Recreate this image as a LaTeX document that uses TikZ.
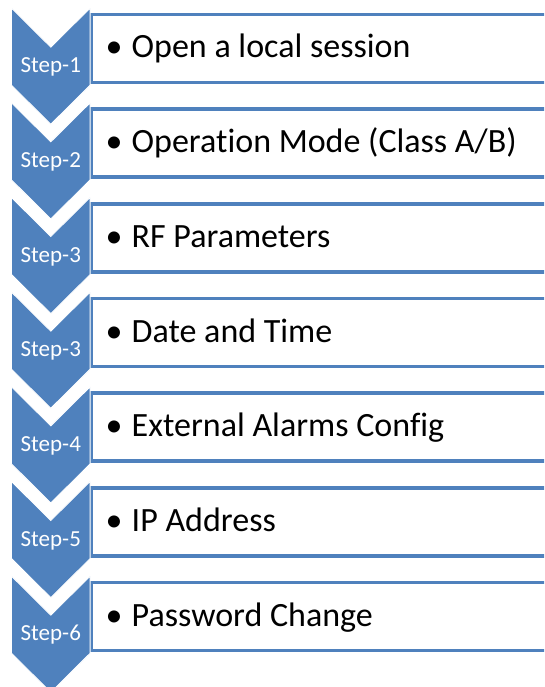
\documentclass[tikz,border=0pt]{standalone}
\usepackage{fontspec}
\setmainfont{Carlito}[Ligatures=NoCommon]
\definecolor{accent}{HTML}{4F81BD}
\tikzset{
  chev/.style={fill=accent, draw=white, line width=0.8pt},
  itembox/.style={fill=white, draw=accent, line width=3.6pt},
  steplabel/.style={text=white, font=\fontsize{23}{27}\selectfont, anchor=base, inner sep=0pt},
  itemtext/.style={text=black, font=\fontsize{34}{40}\selectfont, anchor=base west, inner sep=0pt},
  bulletmark/.style={text=black, font=\fontsize{34}{40}\selectfont, anchor=base, inner sep=0pt}
}
\begin{document}
\begin{tikzpicture}[x=1pt,y=-1pt]
\useasboundingbox (0,0) rectangle (544,687);
\clip (0,0) rectangle (544,687);
\foreach \i/\lab/\txt in {0/Step-1/{Open a local session},
                          1/Step-2/{Operation Mode (Class A\slash B)},
                          2/Step-3/{RF Parameters},
                          3/Step-3/{Date and Time},
                          4/Step-4/{External Alarms Config},
                          5/Step-5/{IP Address},
                          6/Step-6/{Password Change}}{
  \pgfmathsetmacro{\yo}{\i*94.67}
  \begin{scope}[yshift=-\yo pt]
    \draw[itembox] (91.5,14.5) rectangle (600,82.5);
    \draw[chev] (11.5,8.2) -- (50.8,47.2) -- (90.1,8.2) -- (90.1,85.2) -- (50.8,124.2) -- (11.5,85.2) -- cycle;
    \node[steplabel] (s\i) at (50.8,72.8) {\lab};
    \node[bulletmark] (b\i) at (114,58) {•};
    \node[itemtext] (t\i) at (131.5,58) {\txt};
  \end{scope}
}
\end{tikzpicture}
\end{document}
